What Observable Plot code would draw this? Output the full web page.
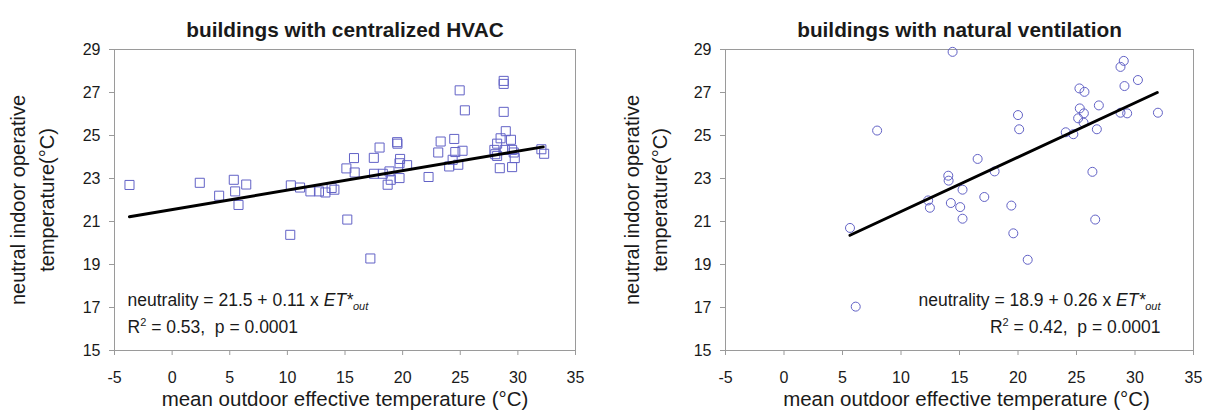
<!DOCTYPE html>
<html>
<head>
<meta charset="utf-8">
<script src="https://cdn.jsdelivr.net/npm/d3@7"></script>
<script src="https://cdn.jsdelivr.net/npm/@observablehq/plot@0.6"></script>
<style>
  body { margin: 0; background: #fff; }
  #wrap { position: relative; width: 1209px; height: 417px; overflow: hidden; }
  #left, #right { position: absolute; top: 0; }
  #left { left: 0; }
  #right { left: 604px; }
  svg text { white-space: pre; }
</style>
</head>
<body>
<div id="wrap"><div id="left"></div><div id="right"></div></div>
<script>
// ---- data ----
const xTicks = [-5, 0, 5, 10, 15, 20, 25, 30, 35];
const yTicks = [15, 17, 19, 21, 23, 25, 27, 29];

const hvacX = [-3.7, 2.4, 5.35, 6.43, 4.08, 5.47, 5.76, 10.25, 10.3, 11.1, 12.0, 12.74, 13.3, 13.84, 14.08,
  15.2, 17.2, 15.12, 15.78, 15.84, 17.5, 18.0, 17.52, 18.28, 18.86, 18.7, 18.97, 19.52, 19.55, 19.78,
  19.73, 20.39, 19.73, 22.25, 23.3, 23.09, 24.48, 24.34, 24.57, 25.2, 24.04, 24.83, 24.95, 25.4,
  28.77, 28.77, 28.77, 28.95, 28.2, 28.5, 29.4, 27.96, 28.04, 28.86, 29.5, 29.64, 29.73, 28.43, 29.5,
  28.2, 32.04, 32.28];
const hvacY = [22.7, 22.8, 22.94, 22.72, 22.2, 22.4, 21.77, 20.38, 22.68, 22.58, 22.4, 22.4, 22.35, 22.56, 22.48,
  21.09, 19.28, 23.47, 23.95, 23.28, 23.96, 24.44, 23.22, 23.22, 23.33, 22.71, 22.94, 24.69, 24.62, 23.91,
  23.71, 23.62, 23.02, 23.07, 24.72, 24.21, 24.84, 23.87, 24.23, 24.29, 23.56, 23.64, 27.1, 26.17,
  27.54, 27.4, 26.1, 25.2, 24.62, 24.87, 24.8, 24.33, 24.13, 24.33, 24.33, 24.21, 23.95, 23.48, 23.53,
  24.05, 24.36, 24.15];
const hvacLineX = [-3.7, 32.2];
const hvacLineY = [21.22, 24.47];

const nvX = [14.41, 7.96, 5.64, 14.04, 14.07, 12.32, 12.47, 14.26, 15.26, 15.06, 15.26, 6.13, 16.55, 18.0,
  17.12, 19.43, 19.6, 20.83, 20.0, 20.1, 24.08, 24.73, 25.14, 25.28, 25.63, 25.25, 25.68, 26.74, 26.91,
  26.36, 26.6, 28.76, 29.04, 29.1, 30.25, 28.76, 29.33, 31.96, 25.6];
const nvY = [28.89, 25.23, 20.7, 23.13, 22.9, 21.98, 21.64, 21.86, 22.48, 21.67, 21.13, 17.04, 23.91, 23.33,
  22.14, 21.74, 20.45, 19.22, 25.95, 25.29, 25.15, 25.06, 25.8, 26.26, 26.03, 27.19, 27.03, 25.29, 26.4,
  23.31, 21.09, 28.19, 28.47, 27.3, 27.58, 26.06, 26.03, 26.06, 25.6];
const nvLineX = [5.64, 31.9];
const nvLineY = [20.36, 27.0];

const titles = ["buildings with centralized HVAC", "buildings with natural ventilation"];
const xLabel = "mean outdoor effective temperature (°C)";
const yLabel1 = "neutral indoor operative";
const yLabel2 = "temperature(°C)";
const eqLeft = ["neutrality = 21.5 + 0.11 x ", "R", "2", " = 0.53,  p = 0.0001"];
const eqRight = ["neutrality = 18.9 + 0.26 x ", "R", "2", " = 0.42,  p = 0.0001"];

const markColor = "#6262c6";
const axisColor = "#9a9a9a";
const textColor = "#1a1a1a";

function rows(xs, ys) { return xs.map((x, i) => ({x, y: ys[i]})); }

function makePlot(cfg) {
  const {width, ml, mr, pts, line, symbol, r, title, eq, eqRight: rightAlign, eqDx, yl1dx, yl2dx, xlDx} = cfg;
  const svg = Plot.plot({
    width, height: 417,
    marginLeft: ml, marginRight: mr, marginTop: 49, marginBottom: 67,
    style: {fontFamily: "'Liberation Sans', Arial, sans-serif", fontSize: "16px", color: textColor, background: "white"},
    x: {domain: [-5, 35]},
    y: {domain: [15, 29]},
    marks: [
      Plot.frame({stroke: axisColor, strokeWidth: 1}),
      Plot.axisX({ticks: xTicks, tickSize: 5, tickPadding: 16, stroke: axisColor, label: null, tickFormat: d => String(d), fill: textColor, fontSize: 16}),
      Plot.axisY({ticks: yTicks, tickSize: 5, tickPadding: 9, stroke: axisColor, label: null, tickFormat: d => String(d), fill: textColor, fontSize: 16}),
      Plot.dot(pts, {x: "x", y: "y", symbol, r, stroke: markColor, strokeWidth: 1, fill: "none"}),
      Plot.line(line, {x: "x", y: "y", stroke: "black", strokeWidth: 3}),
      Plot.text([title], {text: d => d, frameAnchor: "top", dy: -27, fontWeight: "bold", fontSize: 20.8, fill: textColor}),
      Plot.text([xLabel], {text: d => d, frameAnchor: "bottom", dy: 55, dx: xlDx, fontSize: 20.5, fill: textColor}),
      Plot.text([yLabel1], {text: d => d, frameAnchor: "left", textAnchor: "middle", dx: yl1dx, rotate: -90, fontSize: 20, fill: textColor}),
      Plot.text([yLabel2], {text: d => d, frameAnchor: "left", textAnchor: "middle", dx: yl2dx, rotate: -90, fontSize: 20, fill: textColor}),
      Plot.text(["EQ1"], {text: d => d, frameAnchor: rightAlign ? "bottom-right" : "bottom-left", textAnchor: rightAlign ? "end" : "start", dx: eqDx, dy: -45, fontSize: 17.5, fill: textColor}),
      Plot.text(["EQ2"], {text: d => d, frameAnchor: rightAlign ? "bottom-right" : "bottom-left", textAnchor: rightAlign ? "end" : "start", dx: eqDx, dy: -18, fontSize: 17.5, fill: textColor})
    ]
  });
  svg.querySelectorAll("text").forEach(t => {
    if (t.textContent === "EQ1") {
      t.innerHTML = `${eq[0]}<tspan font-style="italic">ET*</tspan><tspan font-style="italic" font-size="11" dy="4">out</tspan>`;
    } else if (t.textContent === "EQ2") {
      t.innerHTML = `${eq[1]}<tspan font-size="11" dy="-7">${eq[2]}</tspan><tspan dy="7">${eq[3]}</tspan>`;
    }
  });
  return svg;
}

document.getElementById("left").appendChild(makePlot({
  width: 604, ml: 114, mr: 29,
  pts: rows(hvacX, hvacY), line: rows(hvacLineX, hvacLineY),
  symbol: "square", r: 5.1, title: titles[0], eq: eqLeft, eqRight: false, eqDx: 13,
  yl1dx: -96, yl2dx: -67, xlDx: 0
}));
document.getElementById("right").appendChild(makePlot({
  width: 605, ml: 121, mr: 16,
  pts: rows(nvX, nvY), line: rows(nvLineX, nvLineY),
  symbol: "circle", r: 4.5, title: titles[1], eq: eqRight, eqRight: true, eqDx: -33,
  yl1dx: -93, yl2dx: -65, xlDx: 7
}));
</script>
</body>
</html>
